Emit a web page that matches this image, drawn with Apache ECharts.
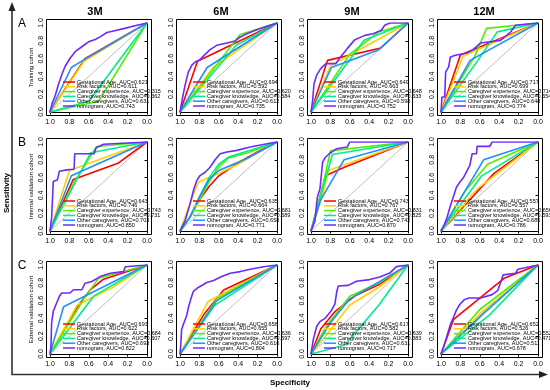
<!DOCTYPE html>
<html><head><meta charset="utf-8">
<script src="https://cdn.jsdelivr.net/npm/echarts@6/dist/echarts.min.js"></script>
<style>html,body{margin:0;padding:0;background:#fff}#c{width:550px;height:390px}</style>
</head><body><div id="c"></div>
<script>
// ---------- categories / labels ----------
const periods = ['3M', '6M', '9M', '12M'];
const cohorts = ['Training cohort', 'Internal validation cohort', 'External validation cohort'];
const rowLetters = ['A', 'B', 'C'];
const predictors = ['Gestational Age', 'Risk factors', 'Caregiver experience', 'Caregiver knowledge', 'Other caregivers', 'nomogram'];
const tickValues = [0, 0.2, 0.4, 0.6, 0.8, 1.0];

// ---------- AUC values (legend) ----------
const auc_A_3M  = [0.621, 0.611, 0.315, 0.362, 0.631, 0.743];
const auc_A_6M  = [0.694, 0.592, 0.620, 0.584, 0.612, 0.735];
const auc_A_9M  = [0.649, 0.663, 0.648, 0.633, 0.598, 0.752];
const auc_A_12M = [0.717, 0.699, 0.714, 0.654, 0.648, 0.774];
const auc_B_3M  = [0.643, 0.746, 0.743, 0.731, 0.703, 0.850];
const auc_B_6M  = [0.635, 0.664, 0.681, 0.689, 0.658, 0.771];
const auc_B_9M  = [0.743, 0.767, 0.831, 0.825, 0.742, 0.870];
const auc_B_12M = [0.557, 0.557, 0.656, 0.593, 0.685, 0.786];
const auc_C_3M  = [0.693, 0.622, 0.684, 0.607, 0.693, 0.822];
const auc_C_6M  = [0.656, 0.655, 0.636, 0.597, 0.616, 0.804];
const auc_C_9M  = [0.617, 0.582, 0.639, 0.383, 0.631, 0.717];
const auc_C_12M = [0.652, 0.526, 0.552, 0.471, 0.511, 0.678];

// ---------- ROC curves: [specificity, sensitivity] per predictor ----------
const roc_A_3M = [
  [[1,0],[0.64,0.60],[0,1]],
  [[1,0],[0.65,0.57],[0,1]],
  [[1,0],[0.5,0.12],[0,1]],
  [[1,0],[0.6,0.12],[0,1]],
  [[1,0],[0.78,0.5],[0.66,0.58],[0,1]],
  [[1,0],[0.976,0.104],[0.948,0.178],[0.914,0.307],[0.879,0.419],[0.845,0.511],[0.793,0.604],[0.741,0.678],[0.672,0.733],[0.603,0.789],[0.534,0.815],[0.483,0.844],[0.414,0.893],[0.345,0.911],[0.241,0.937],[0.103,0.974],[0,1]]
];
const roc_A_6M = [
  [[1,0],[0.82,0.57],[0,1]],
  [[1,0],[0.66,0.5],[0,1]],
  [[1,0],[0.38,0.87],[0,1]],
  [[1,0],[0.42,0.75],[0,1]],
  [[1,0],[0.72,0.5],[0,1]],
  [[1,0],[0.972,0.169],[0.948,0.30],[0.914,0.449],[0.879,0.524],[0.845,0.562],[0.793,0.588],[0.741,0.648],[0.690,0.700],[0.621,0.749],[0.517,0.775],[0.431,0.798],[0.379,0.843],[0.310,0.880],[0.207,0.925],[0.103,0.963],[0,1]]
];
const roc_A_9M = [
  [[1,0],[0.83,0.58],[0.28,0.72],[0,1]],
  [[1,0],[0.8,0.52],[0,1]],
  [[1,0],[0.6,0.65],[0.3,0.9],[0,1]],
  [[1,0],[0.45,0.81],[0,1]],
  [[1,0],[0.79,0.5],[0.3,0.7],[0,1]],
  [[1,0],[0.983,0.131],[0.969,0.318],[0.942,0.412],[0.901,0.487],[0.846,0.543],[0.743,0.543],[0.702,0.610],[0.627,0.712],[0.548,0.813],[0.445,0.861],[0.360,0.880],[0.274,0.918],[0.240,0.974],[0.188,1],[0,1]]
];
const roc_A_12M = [
  [[1,0],[0.8,0.64],[0,1]],
  [[1,0],[0.77,0.63],[0,1]],
  [[1,0],[0.65,0.63],[0.53,0.94],[0,1]],
  [[1,0],[0.62,0.58],[0.42,0.9],[0,1]],
  [[1,0],[0.7,0.58],[0,1]],
  [[1,0],[0.990,0.169],[0.962,0.169],[0.952,0.449],[0.921,0.506],[0.903,0.618],[0.852,0.637],[0.731,0.663],[0.679,0.693],[0.593,0.775],[0.386,0.805],[0.283,0.899],[0.231,0.974],[0,1]]
];
const roc_B_3M = [
  [[1,0],[0.76,0.58],[0.3,0.76],[0,1]],
  [[1,0],[0.8,0.68],[0,1]],
  [[1,0],[0.75,0.55],[0.52,0.95],[0,1]],
  [[1,0],[0.58,0.88],[0,1]],
  [[1,0],[0.78,0.62],[0,1]],
  [[1,0],[0.983,0.151],[0.966,0.558],[0.924,0.574],[0.903,0.672],[0.828,0.687],[0.752,0.694],[0.745,0.868],[0.545,0.868],[0.524,0.936],[0.448,0.974],[0,1]]
];
const roc_B_6M = [
  [[1,0],[0.9,0.15],[0.8,0.35],[0.7,0.5],[0.6,0.62],[0.45,0.73],[0.3,0.83],[0.15,0.92],[0,1]],
  [[1,0],[0.9,0.3],[0.81,0.55],[0.6,0.65],[0.4,0.75],[0.2,0.88],[0,1]],
  [[1,0],[0.9,0.15],[0.8,0.35],[0.7,0.55],[0.6,0.72],[0.5,0.82],[0.3,0.88],[0,1]],
  [[1,0],[0.9,0.15],[0.8,0.38],[0.7,0.6],[0.6,0.75],[0.5,0.83],[0.3,0.9],[0,1]],
  [[1,0],[0.9,0.15],[0.8,0.38],[0.7,0.58],[0.6,0.68],[0.45,0.75],[0.3,0.82],[0,1]],
  [[1,0],[0.948,0.113],[0.897,0.302],[0.862,0.453],[0.828,0.566],[0.793,0.623],[0.741,0.66],[0.69,0.717],[0.638,0.8],[0.586,0.868],[0.517,0.887],[0.414,0.906],[0.276,0.943],[0.103,0.981],[0,1]]
];
const roc_B_9M = [
  [[1,0],[0.85,0.62],[0.65,0.72],[0,1]],
  [[1,0],[0.87,0.45],[0.82,0.68],[0,1]],
  [[1,0],[0.88,0.5],[0.8,0.9],[0,1]],
  [[1,0],[0.78,0.86],[0,1]],
  [[1,0],[0.9,0.35],[0.66,0.8],[0,1]],
  [[1,0],[0.959,0.113],[0.935,0.377],[0.908,0.472],[0.88,0.774],[0.856,0.823],[0.812,0.868],[0.736,0.925],[0.627,0.943],[0.6,1],[0,1]]
];
const roc_B_12M = [
  [[1,0],[0.45,0.65],[0,1]],
  [[1,0],[0.62,0.48],[0,1]],
  [[1,0],[0.75,0.45],[0.52,0.75],[0,1]],
  [[1,0],[0.58,0.62],[0,1]],
  [[1,0],[0.56,0.8],[0,1]],
  [[1,0],[0.972,0.057],[0.938,0.151],[0.903,0.283],[0.869,0.396],[0.841,0.491],[0.807,0.547],[0.766,0.604],[0.731,0.679],[0.703,0.736],[0.679,0.868],[0.634,0.868],[0.628,0.951],[0.497,0.951],[0.472,1],[0,1]]
];
const roc_C_3M = [
  [[1,0],[0.83,0.31],[0.69,0.57],[0.586,0.72],[0.448,0.84],[0,1]],
  [[1,0],[0.72,0.55],[0.35,0.75],[0,1]],
  [[1,0],[0.65,0.62],[0.5,0.85],[0,1]],
  [[1,0],[0.55,0.65],[0,1]],
  [[1,0],[0.86,0.53],[0,1]],
  [[1,0],[0.99,0.093],[0.983,0.352],[0.966,0.481],[0.938,0.556],[0.903,0.648],[0.879,0.685],[0.793,0.685],[0.759,0.722],[0.672,0.722],[0.638,0.796],[0.569,0.815],[0.483,0.87],[0.379,0.907],[0.241,0.926],[0.224,0.981],[0,1]]
];
const roc_C_6M = [
  [[1,0],[0.75,0.45],[0.55,0.72],[0,1]],
  [[1,0],[0.71,0.59],[0,1]],
  [[1,0],[0.62,0.62],[0,1]],
  [[1,0],[0.64,0.55],[0,1]],
  [[1,0],[0.62,0.6],[0,1]],
  [[1,0],[0.993,0.093],[0.983,0.278],[0.959,0.352],[0.931,0.433],[0.91,0.537],[0.89,0.611],[0.862,0.704],[0.821,0.741],[0.776,0.77],[0.724,0.804],[0.655,0.826],[0.569,0.87],[0.483,0.907],[0.379,0.926],[0.276,0.952],[0.138,0.981],[0,1]]
];
const roc_C_9M = [
  [[1,0],[0.9,0.28],[0.75,0.48],[0.55,0.65],[0.3,0.78],[0,1]],
  [[1,0],[0.85,0.2],[0.6,0.55],[0.3,0.75],[0,1]],
  [[1,0],[0.85,0.3],[0.6,0.65],[0.3,0.8],[0,1]],
  [[1,0],[0.65,0.1],[0.3,0.55],[0,1]],
  [[1,0],[0.8,0.35],[0.6,0.62],[0,1]],
  [[1,0],[0.976,0.164],[0.942,0.309],[0.908,0.364],[0.856,0.4],[0.788,0.491],[0.753,0.564],[0.736,0.691],[0.719,0.764],[0.616,0.771],[0.531,0.818],[0.394,0.836],[0.291,0.865],[0.188,0.909],[0.12,0.982],[0,1]]
];
const roc_C_12M = [
  [[1,0],[0.87,0.39],[0.35,0.85],[0,1]],
  [[1,0],[0.58,0.47],[0,1]],
  [[1,0],[0.6,0.5],[0,1]],
  [[1,0],[0.5,0.44],[0,1]],
  [[1,0],[0.55,0.47],[0,1]],
  [[1,0],[0.972,0.085],[0.938,0.204],[0.903,0.333],[0.869,0.419],[0.841,0.493],[0.807,0.556],[0.759,0.611],[0.714,0.63],[0.593,0.63],[0.472,0.667],[0.414,0.715],[0.386,0.804],[0.359,0.889],[0.231,0.907],[0.207,0.952],[0,1]]
];
const diagonal = [[1, 0], [0, 1]];

// ---------- assemble ----------
const panelRoc = [
  [roc_A_3M, roc_A_6M, roc_A_9M, roc_A_12M],
  [roc_B_3M, roc_B_6M, roc_B_9M, roc_B_12M],
  [roc_C_3M, roc_C_6M, roc_C_9M, roc_C_12M]
];
const panelAuc = [
  [auc_A_3M, auc_A_6M, auc_A_9M, auc_A_12M],
  [auc_B_3M, auc_B_6M, auc_B_9M, auc_B_12M],
  [auc_C_3M, auc_C_6M, auc_C_9M, auc_C_12M]
];

const FONT = '"Liberation Sans", Arial, Helvetica, sans-serif';
const colors = ['#FF0000', '#FFD000', '#55EE00', '#00EE88', '#1E90FF', '#6B2BFF'];
const colX = [50, 180, 311, 441], colW = 97;
const rowY = [23, 142, 265], rowH = 89;
const padX = colW * 0.04, padY = rowH * 0.04;

const grids = [], xAxes = [], yAxes = [], series = [], graphics = [];

for (let r = 0; r < 3; r++) {
  for (let c = 0; c < 4; c++) {
    const idx = r * 4 + c;
    const L = colX[c], T = rowY[r];
    grids.push({ left: L, top: T, width: colW, height: rowH });
    xAxes.push({
      gridIndex: idx, type: 'value', min: 0, max: 1, interval: 0.2, inverse: true,
      offset: padY,
      axisLine: { show: true, lineStyle: { color: '#000', width: 1 } },
      axisTick: { show: true, length: 2.5, lineStyle: { color: '#000', width: 1 } },
      axisLabel: { fontSize: 7, color: '#000', margin: 3, fontFamily: FONT, formatter: v => v.toFixed(1) },
      splitLine: { show: false }
    });
    yAxes.push({
      gridIndex: idx, type: 'value', min: 0, max: 1, interval: 0.2,
      offset: padX,
      axisLine: { show: true, lineStyle: { color: '#000', width: 1 } },
      axisTick: { show: true, length: 2.5, lineStyle: { color: '#000', width: 1 } },
      axisLabel: { fontSize: 7, color: '#000', margin: 2, rotate: 90, fontFamily: FONT, formatter: v => v.toFixed(1) },
      splitLine: { show: false }
    });
    series.push({
      type: 'line', xAxisIndex: idx, yAxisIndex: idx, data: diagonal, symbol: 'none',
      lineStyle: { color: '#BEBEBE', width: 1 }, silent: true, z: 1
    });
    const rocs = panelRoc[r][c], aucs = panelAuc[r][c];
    for (let i = 0; i < predictors.length; i++) {
      series.push({
        name: predictors[i] + ', AUC=' + aucs[i].toFixed(3),
        type: 'line', xAxisIndex: idx, yAxisIndex: idx, data: rocs[i], symbol: 'none',
        lineStyle: { color: colors[i], width: 1.6 }, silent: true, z: 2 + i
      });
    }
    // plot box
    graphics.push({
      type: 'rect', silent: true, z: 50,
      shape: { x: Math.round(L - padX) + 0.5, y: Math.round(T - padY) + 0.5, width: Math.round(colW + 2 * padX), height: Math.round(rowH + 2 * padY) },
      style: { fill: null, stroke: '#000', lineWidth: 1 }
    });
    // legend (bottom-right, no box)
    for (let i = 0; i < predictors.length; i++) {
      const y = T + rowH - 30 + i * 4.8;
      graphics.push({ type: 'line', silent: true, z: 60,
        shape: { x1: L + 13, y1: y, x2: L + 25, y2: y },
        style: { stroke: colors[i], lineWidth: 1.5 } });
      graphics.push({ type: 'text', silent: true, z: 60, x: L + 27, y: y,
        style: { text: predictors[i] + ', AUC=' + aucs[i].toFixed(3), fontSize: 5.5, fontFamily: FONT,
                 fill: '#000', align: 'left', verticalAlign: 'middle' } });
    }
  }
}

// column titles
const titleX = [95, 221, 352, 484];
periods.forEach((p, c) => graphics.push({ type: 'text', silent: true, x: titleX[c], y: 12,
  style: { text: p, fontSize: 11, fontWeight: 'bold', fontFamily: FONT, fill: '#000', align: 'center', verticalAlign: 'middle' } }));
// row letters and cohort titles
const letterY = [24, 143, 266];
rowLetters.forEach((l, r) => {
  graphics.push({ type: 'text', silent: true, x: 22, y: letterY[r],
    style: { text: l, fontSize: 12, fontFamily: FONT, fill: '#000', align: 'center', verticalAlign: 'middle' } });
  graphics.push({ type: 'text', silent: true, x: 31, y: rowY[r] + rowH / 2, rotation: Math.PI / 2,
    style: { text: cohorts[r], fontSize: 6, fontFamily: FONT, fill: '#000', align: 'center', verticalAlign: 'middle' } });
});
// outer axes with arrows
graphics.push({ type: 'polyline', silent: true, shape: { points: [[12, 10], [12, 374.5], [540, 374.5]] },
  style: { stroke: '#333', lineWidth: 1.6, fill: null } });
graphics.push({ type: 'polygon', silent: true, shape: { points: [[12, 2], [8.5, 11], [15.5, 11]] }, style: { fill: '#222' } });
graphics.push({ type: 'polygon', silent: true, shape: { points: [[548, 374.5], [539, 371], [539, 378]] }, style: { fill: '#222' } });
graphics.push({ type: 'text', silent: true, x: 7, y: 193, rotation: Math.PI / 2,
  style: { text: 'Sensitivity', fontSize: 8, fontWeight: 'bold', fontFamily: FONT, fill: '#000', align: 'center', verticalAlign: 'middle' } });
graphics.push({ type: 'text', silent: true, x: 290, y: 383,
  style: { text: 'Specificity', fontSize: 8, fontWeight: 'bold', fontFamily: FONT, fill: '#000', align: 'center', verticalAlign: 'middle' } });

const chart = echarts.init(document.getElementById('c'), null, { renderer: 'canvas' });
chart.setOption({
  animation: false,
  backgroundColor: '#fff',
  grid: grids, xAxis: xAxes, yAxis: yAxes, series: series,
  graphic: { elements: graphics }
});
</script></body></html>
